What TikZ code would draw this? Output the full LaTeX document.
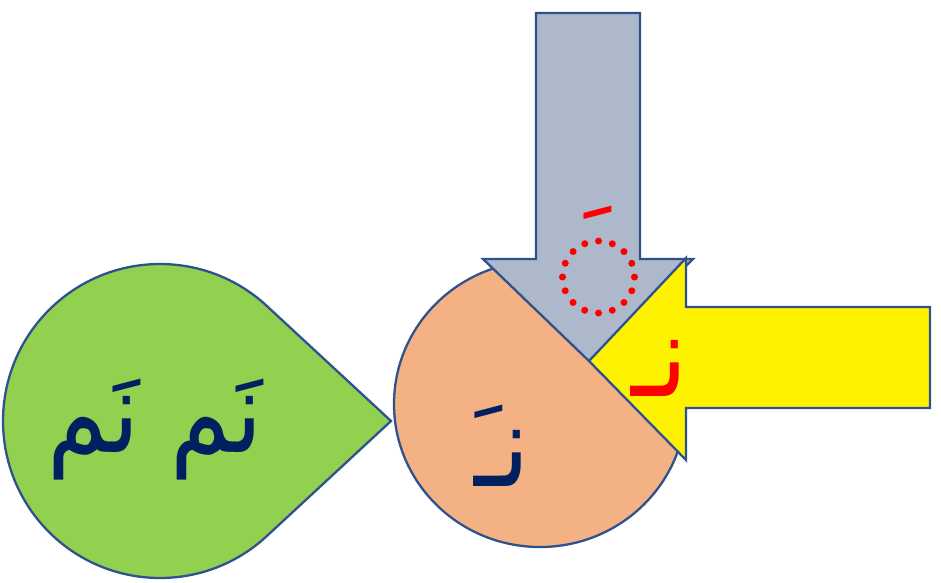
\documentclass[tikz,border=0pt]{standalone}
\usepackage{fontspec}
\usetikzlibrary{calc}
\TeXXeTstate=1
\newfontfamily\arabicfont[Script=Arabic, FakeStretch=0.85]{DejaVu Sans}
\definecolor{leaf}{HTML}{92D050}
\definecolor{peach}{HTML}{F4B183}
\definecolor{slate}{HTML}{ADB9CA}
\definecolor{edgeblue}{HTML}{2F528F}
\definecolor{navy}{HTML}{002060}
\begin{document}
\begin{tikzpicture}[x=1pt,y=-1pt,
  shapeline/.style={draw=edgeblue, line width=2.3pt, line join=miter},
  bigletter/.style={font=\arabicfont\fontsize{115}{130}\selectfont, inner sep=0pt, anchor=base}]
\useasboundingbox (0,0) rectangle (941,582);
% green teardrop
\coordinate (gc) at (160,421);
\coordinate (gp) at (391,421);
\filldraw[shapeline, fill=leaf] ($(gc)+(-47.18:157)$) -- (gp) -- ($(gc)+(47.18:157)$)
  arc[start angle=47.18, end angle=312.82, radius=157] -- cycle;
% orange circle
\coordinate (oc) at (540,404);
\filldraw[shapeline, fill=peach] (oc) ellipse[x radius=146, y radius=143];
% grey down arrow
\filldraw[shapeline, fill=slate] (536,13) -- (640,13) -- (640,259) -- (693,259) -- (589,361)
  -- (483,259) -- (536,259) -- cycle;
% yellow left arrow
\filldraw[shapeline, fill=yellow] (930,307) -- (930,408) -- (686,408) -- (686,460) -- (589,361)
  -- (686,258) -- (686,307) -- cycle;
% dotted placeholder circle
\draw[red, line width=7pt, line cap=round, dash pattern=on 0pt off 14.137pt] (598.5,277) circle[radius=36];
% texts
\node[bigletter, text=navy] (greenword) at (155,452) {\beginR نَم نَم\endR};
\node[bigletter, text=navy] (orangeword) at (502,486) {\beginR نـَ\endR};
\node[bigletter, text=red, anchor=base east] (yellowword) at (688,396) {\beginR نـ\endR};
\node[bigletter, text=red] (fatha) at (573,287) {\beginR َ\endR};
\end{tikzpicture}
\end{document}
